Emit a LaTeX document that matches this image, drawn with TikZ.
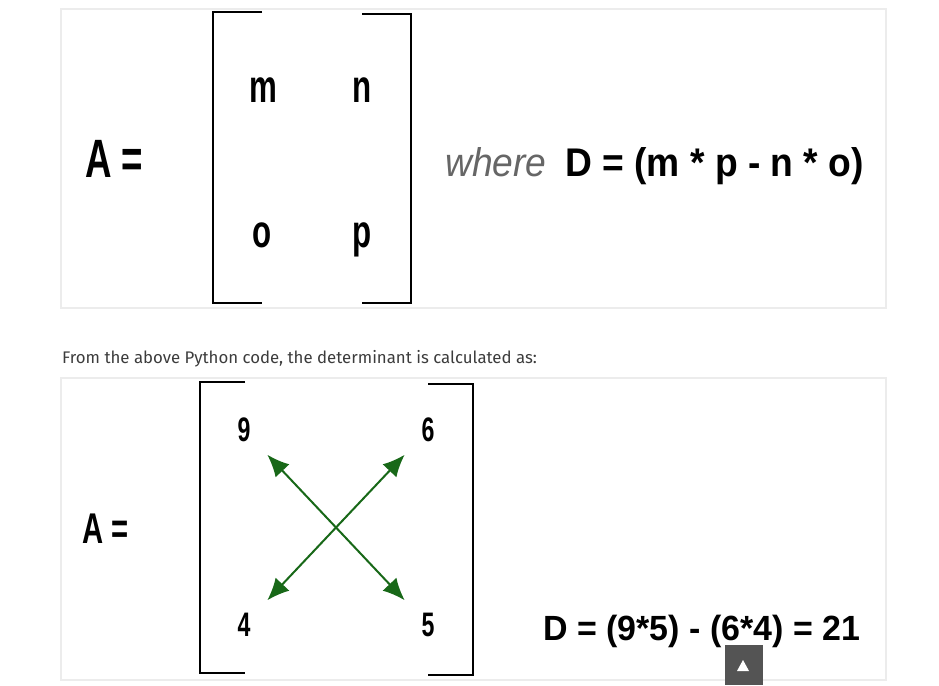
\documentclass[tikz,border=0pt]{standalone}
\usepackage{fontspec}
\usetikzlibrary{arrows.meta}
\setmainfont{Liberation Sans}
\newfontfamily\narrowfont[FakeStretch=0.68]{Liberation Sans}
\newfontfamily\semifont[FakeStretch=0.93]{Liberation Sans}
\newfontfamily\widefont[FakeStretch=0.97]{Liberation Sans}
\newfontfamily\pagefont{Fira Sans}
\definecolor{arrowgreen}{RGB}{24,104,24}
\definecolor{panelline}{RGB}{236,236,236}
\definecolor{pagetext}{RGB}{60,60,60}
\tikzset{
  panel/.style={fill=white,draw=panelline,line width=1.2pt},
  bracket/.style={line width=2.6pt,line cap=butt},
  entry/.style={inner sep=0pt,font=\narrowfont\bfseries\fontsize{46}{46}\selectfont},
  digit/.style={inner sep=0pt,font=\narrowfont\bfseries\fontsize{34}{34}\selectfont},
  cross/.style={arrowgreen,line width=2pt,{Latex[length=22pt,width=19pt]}-{Latex[length=22pt,width=19pt]},shorten <=34pt,shorten >=34pt}
}
\begin{document}
\begin{tikzpicture}[x=1pt,y=-1pt]
  \useasboundingbox (0,0) rectangle (939,685);
  % top panel: general 2x2 matrix
  \draw[panel] (61,9) rectangle (886,308);
  \draw[bracket] (262,12) -- (213,12) -- (213,303) -- (262,303);
  \draw[bracket] (362,14) -- (411,14) -- (411,303) -- (362,303);
  \node[anchor=base west,inner sep=0pt,font=\narrowfont\bfseries\fontsize{54}{54}\selectfont] (lhs1) at (85,177) {A =};
  \node[entry,anchor=base] (m) at (263,102) {m};
  \node[entry,anchor=base] (n) at (362,102) {n};
  \node[entry,anchor=base] (o) at (262,247) {o};
  \node[entry,anchor=base] (p) at (362,247) {p};
  \node[anchor=base west,inner sep=0pt,text=black!60,font=\semifont\itshape\fontsize{40}{40}\selectfont] (where) at (445,176) {where};
  \node[anchor=base west,inner sep=0pt,font=\semifont\bfseries\fontsize{40}{40}\selectfont] (dform) at (565,176) {D = (m * p - n * o)};
  \node[anchor=base west,inner sep=0pt,text=pagetext,font=\pagefont\fontsize{16.8}{16.8}\selectfont] (intro) at (62,363) {From the above Python code, the determinant is calculated as:};
  % bottom panel: worked example
  \draw[panel] (61,378) rectangle (886,680);
  \draw[bracket] (245,382) -- (200,382) -- (200,673) -- (245,673);
  \draw[bracket] (428,384) -- (473,384) -- (473,675) -- (428,675);
  \node[anchor=base west,inner sep=0pt,font=\narrowfont\bfseries\fontsize{43}{43}\selectfont] (lhs2) at (82,543) {A =};
  \node[digit] (n9) at (244,430) {9};
  \node[digit] (n6) at (428,430) {6};
  \node[digit] (n4) at (244,625) {4};
  \node[digit] (n5) at (428,625) {5};
  \draw[cross] (n9.center) -- (n5.center);
  \draw[cross] (n4.center) -- (n6.center);
  \node[anchor=base west,inner sep=0pt,font=\widefont\bfseries\fontsize{35}{35}\selectfont] (dval) at (543,640) {D = (9*5) - (6*4) = 21};
  % scroll-to-top button
  \fill[black!67] (725,645) rectangle (763,685);
  \fill[white] (737,671) -- (749,671) -- (743,660) -- cycle;
\end{tikzpicture}
\end{document}
